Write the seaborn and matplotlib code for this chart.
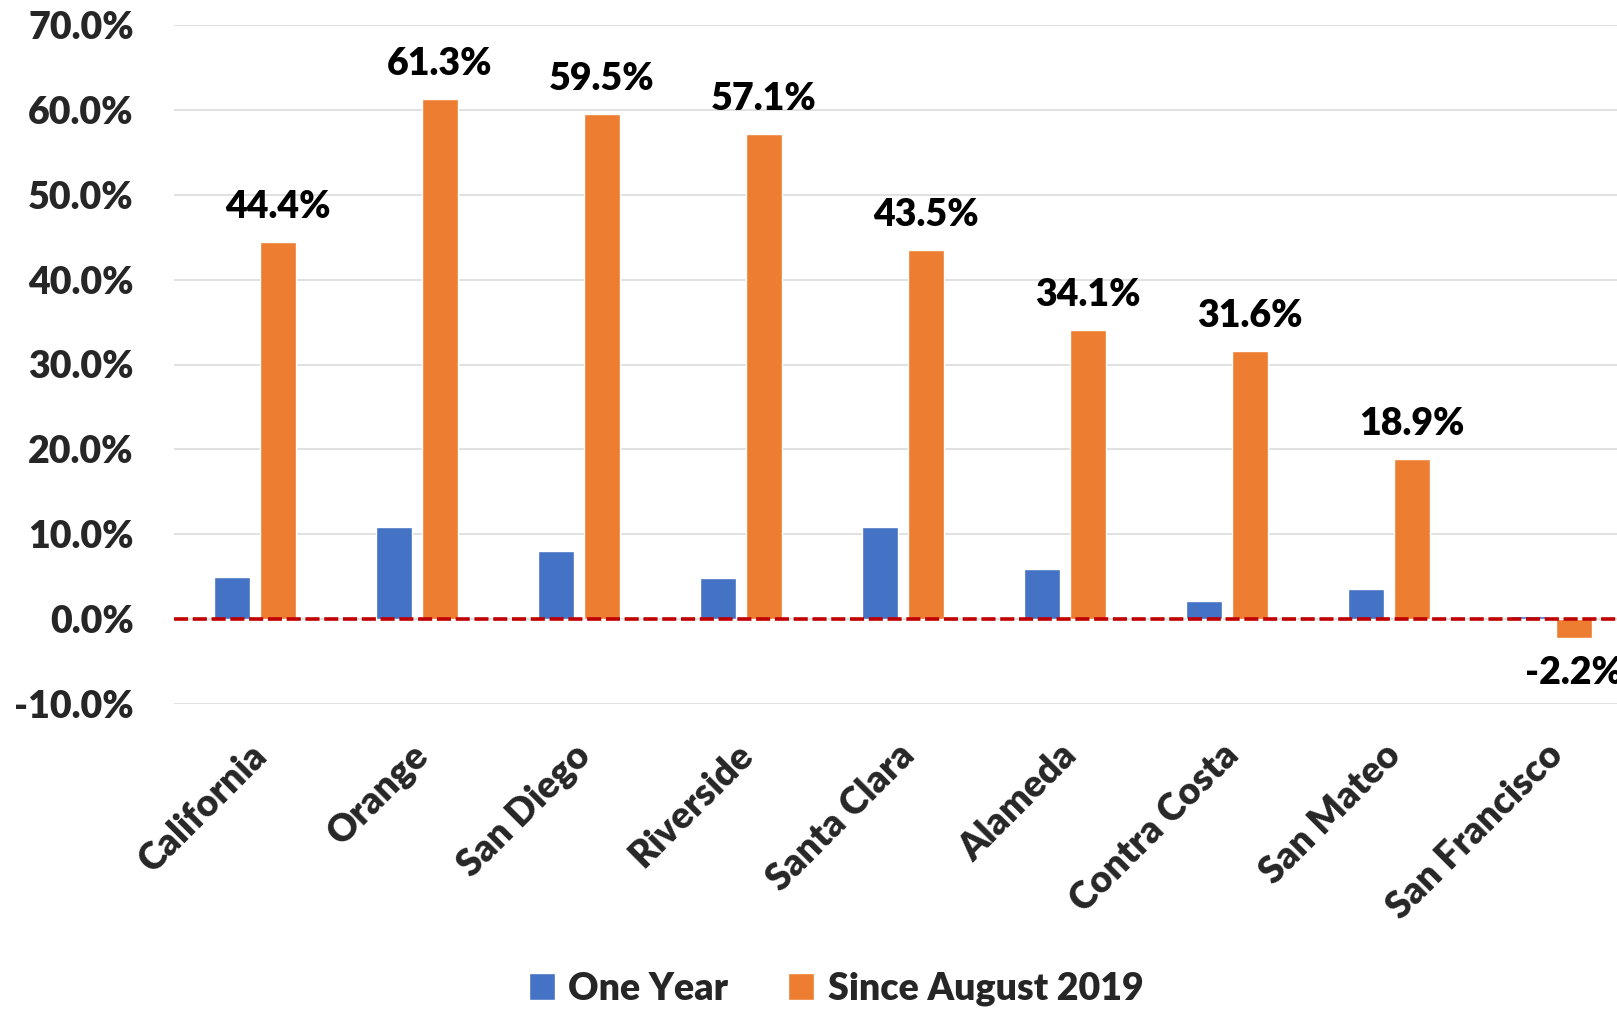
import pandas as pd
import seaborn as sns
import matplotlib.pyplot as plt
from matplotlib.ticker import FuncFormatter
from matplotlib.transforms import ScaledTranslation

# data (percent change)
counties = ["California", "Orange", "San Diego", "Riverside", "Santa Clara",
            "Alameda", "Contra Costa", "San Mateo", "San Francisco"]
one_year = [5.0, 10.8, 8.0, 4.8, 10.8, 5.9, 2.1, 3.6, 0.4]
since_aug_2019 = [44.4, 61.3, 59.5, 57.1, 43.5, 34.1, 31.6, 18.9, -2.2]
series_names = ["One Year", "Since August 2019"]
series_colors = ["#4472C4", "#ED7D31"]
y_ticks = [-10, 0, 10, 20, 30, 40, 50, 60, 70]

df = pd.DataFrame({
    "County": counties * 2,
    "Series": [series_names[0]] * len(counties) + [series_names[1]] * len(counties),
    "Change": one_year + since_aug_2019,
})

sns.set_theme(style="white")
plt.rcParams["font.family"] = ["Lato", "DejaVu Sans"]
WEIGHT = "heavy"

W, H = 1617, 1009
fig = plt.figure(figsize=(W / 100, H / 100), dpi=100)
# plot area runs off the right edge, as in the reference
ax = fig.add_axes([174 / W, (H - 704) / H, 1458 / W, 679 / H])

sns.barplot(data=df, x="County", y="Change", hue="Series", order=counties,
            hue_order=series_names, palette=series_colors, width=0.568, gap=0.218,
            saturation=1, ax=ax, legend=True, zorder=3)

ax.set_ylim(-10, 70)
ax.set_xlim(-0.5, len(counties) - 0.5)
ax.set_yticks(y_ticks)
ax.yaxis.set_major_formatter(FuncFormatter(lambda v, _: f"{v:.1f}%"))
ax.grid(axis="y", color="#D9D9D9", linewidth=1.1, zorder=0)
ax.grid(axis="x", visible=False)
for s in ax.spines.values():
    s.set_visible(False)

ax.axhline(0, color="#C00000", linewidth=2.6, linestyle=(0, (3.9, 1.3)), zorder=4)

ax.tick_params(axis="y", length=0, pad=29, labelsize=27)
ax.tick_params(axis="x", length=0, pad=24, labelsize=27)
shift = ScaledTranslation(-6 / 100, 0, fig.dpi_scale_trans)
for lab in ax.get_xticklabels():
    lab.set_rotation(45)
    lab.set_ha("right")
    lab.set_va("top")
    lab.set_rotation_mode("anchor")
    lab.set_fontweight(WEIGHT)
    lab.set_transform(lab.get_transform() + shift)
plt.setp(ax.get_yticklabels(), fontweight=WEIGHT)
ax.set_xlabel("")
ax.set_ylabel("")

ax.bar_label(ax.containers[1], fmt="%.1f%%", padding=13, fontsize=27,
             fontweight=WEIGHT, color="black")

handles, labels = ax.get_legend_handles_labels()
ax.legend_.remove()
fig.legend(handles, labels, loc="center", bbox_to_anchor=(836 / W, 0.02),
           ncol=2, frameon=False, handlelength=0.7, handleheight=0.7,
           handletextpad=0.35, columnspacing=1.6,
           prop={"weight": WEIGHT, "size": 27})

fig.savefig("out.png", dpi=100)
